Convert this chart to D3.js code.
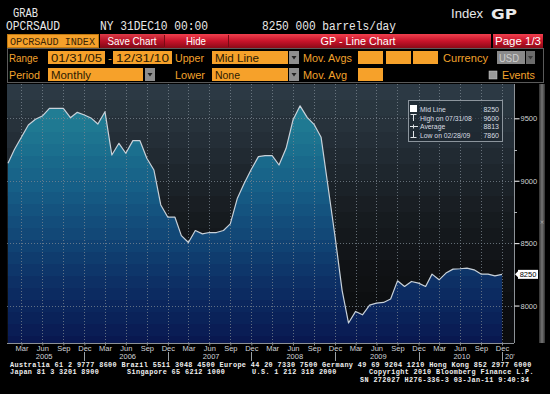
<!DOCTYPE html>
<html><head><meta charset="utf-8">
<script src="https://cdn.jsdelivr.net/npm/d3@7"></script>
<style>
html,body{margin:0;padding:0;background:#000;}
svg{display:block;}
</style></head>
<body>
<svg id="c" width="550" height="394"></svg>
<script>
// ---------------- DATA ----------------
const startYear = 2005;
const values2005 = [9140, 9250, 9350, 9446, 9492, 9518, 9580, 9580, 9580, 9505, 9548, 9527];
const values2006 = [9500, 9454, 9553, 9206, 9300, 9220, 9321, 9321, 9180, 9086, 8806, 8708];
const values2007 = [8708, 8560, 8505, 8601, 8574, 8585, 8585, 8601, 8654, 8860, 8980, 9092];
const values2008 = [9193, 9201, 9201, 9126, 9260, 9486, 9600, 9508, 9452, 9348, 8958, 8553];
const values2009 = [8120, 7860, 7953, 7926, 8004, 8020, 8025, 8052, 8198, 8153, 8193, 8180];
const values2010 = [8153, 8252, 8206, 8260, 8292, 8295, 8300, 8286, 8252, 8252, 8238, 8250];
const values = [].concat(values2005, values2006, values2007, values2008, values2009, values2010);
const yTickValues = [8000, 8500, 9000, 9500];
const yMinorTicks = [8250, 8750, 9250];
const yearLabels = ["2005", "2006", "2007", "2008", "2009", "2010"];
const lastValue = 8250;
const legendRows = [
  ["Mid Line", "8250"],
  ["High on 07/31/08", "9600"],
  ["Average", "8813"],
  ["Low on 02/28/09", "7860"]
];
const footer1 = "Australia 61 2 9777 8600 Brazil 5511 3048 4500 Europe 44 20 7330 7500 Germany 49 69 9204 1210 Hong Kong 852 2977 6000";
const footer2 = ["Japan 81 3 3201 8900", "Singapore 65 6212 1000", "U.S. 1 212 318 2000", "Copyright 2010 Bloomberg Finance L.P."];
const footer3 = "SN 272027 H276-336-3 03-Jan-11  9:40:34";

// month-end dates
const dates = values.map((v, i) => new Date(Date.UTC(startYear, i + 1, 0)));
const data = values.map((v, i) => ({date: dates[i], value: v}));

// ---------------- LAYOUT ----------------
const svg = d3.select("#c");
const P = {l: 7, r: 514, t: 84, b: 343};
const x = d3.scaleUtc().domain([dates[0], dates[dates.length - 1]]).range([8, 502]);
const y = d3.scaleLinear().domain([7700, 9775]).range([P.b, P.t]);

const defs = svg.append("defs");
defs.append("clipPath").attr("id", "plotclip").append("rect")
  .attr("x", P.l).attr("y", P.t).attr("width", P.r - P.l).attr("height", P.b - P.t);

function steppedGradient(id, colorFn, step) {
  const g = defs.append("linearGradient").attr("id", id)
    .attr("gradientUnits", "userSpaceOnUse").attr("x1", 0).attr("x2", 0)
    .attr("y1", P.t).attr("y2", P.b);
  const H = P.b - P.t;
  for (let yy = 0; yy < H; yy += step) {
    const c = colorFn((yy + step / 2) / H);
    g.append("stop").attr("offset", yy / H).attr("stop-color", c);
    g.append("stop").attr("offset", Math.min(1, (yy + step) / H)).attr("stop-color", c);
  }
}
const bgInterp = d3.piecewise(d3.interpolateRgb, ["#2d3b46", "#232d35", "#181d22", "#101215", "#0b0c0e"]);
steppedGradient("bggrad", t => bgInterp(Math.min(1, t * 1.05)), 16);
const fillInterp = d3.piecewise(d3.interpolateRgb, ["#26889a", "#1d7590", "#165e87", "#114575", "#0c2c62", "#091850"]);
steppedGradient("fillgrad", t => fillInterp(t), 12);

const redGrad = defs.append("linearGradient").attr("id", "redgrad").attr("x1", 0).attr("x2", 0).attr("y1", 0).attr("y2", 1);
redGrad.append("stop").attr("offset", 0).attr("stop-color", "#f0404e");
redGrad.append("stop").attr("offset", 0.5).attr("stop-color", "#c8142a");
redGrad.append("stop").attr("offset", 1).attr("stop-color", "#8c0a18");

// ---------------- PLOT ----------------
svg.append("rect").attr("x", P.l).attr("y", P.t).attr("width", P.r - P.l).attr("height", P.b - P.t)
  .attr("fill", "url(#bggrad)");

const plot = svg.append("g").attr("clip-path", "url(#plotclip)");

const area = d3.area().x(d => x(d.date)).y0(P.b).y1(d => y(d.value));
plot.append("path").datum(data).attr("d", area).attr("fill", "url(#fillgrad)");

const quarterTicks = dates.filter(d => (d.getUTCMonth() + 1) % 3 === 0);
plot.append("g").selectAll("line").data(quarterTicks).join("line")
  .attr("x1", d => Math.round(x(d)) + 0.5).attr("x2", d => Math.round(x(d)) + 0.5)
  .attr("y1", P.t).attr("y2", P.b)
  .attr("stroke", "#7d8892").attr("stroke-width", 1).attr("stroke-dasharray", "1,2").attr("opacity", 0.75);
plot.append("g").selectAll("line").data(yTickValues).join("line")
  .attr("x1", P.l).attr("x2", P.r)
  .attr("y1", d => Math.round(y(d)) + 0.5).attr("y2", d => Math.round(y(d)) + 0.5)
  .attr("stroke", "#7d8892").attr("stroke-width", 1).attr("stroke-dasharray", "1,2").attr("opacity", 0.75);

const line = d3.line().x(d => x(d.date)).y(d => y(d.value));
plot.append("path").datum(data).attr("d", line).attr("fill", "none")
  .attr("stroke", "#c8d1d9").attr("stroke-width", 1.2).attr("stroke-linejoin", "round");

// legend
const lg = svg.append("g");
lg.append("rect").attr("x", 408.5).attr("y", 100.5).attr("width", 94).attr("height", 41)
  .attr("fill", "rgba(28,38,48,0.55)").attr("stroke", "#8c959d").attr("stroke-width", 1);
const rowY = [112, 120.5, 129, 137.5];
lg.selectAll("text.l").data(legendRows).join("text").attr("class", "l")
  .attr("x", 420).attr("y", (d, i) => rowY[i]).text(d => d[0])
  .attr("fill", "#d8dde2").attr("font-family", "Liberation Sans, Arial, sans-serif").attr("font-size", 6.8);
lg.selectAll("text.v").data(legendRows).join("text").attr("class", "v")
  .attr("x", 499).attr("y", (d, i) => rowY[i]).attr("text-anchor", "end").text(d => d[1])
  .attr("fill", "#d8dde2").attr("font-family", "Liberation Sans, Arial, sans-serif").attr("font-size", 7);
lg.append("rect").attr("x", 410).attr("y", 105).attr("width", 7).attr("height", 7).attr("fill", "#ffffff");
lg.append("path").attr("d", "M410.5,114.5h6M413.5,114.5v6.5").attr("stroke", "#e0e4e8").attr("fill", "none");
lg.append("path").attr("d", "M410,126.5h8M413.5,124.5v4").attr("stroke", "#e0e4e8").attr("fill", "none");
lg.append("path").attr("d", "M413.5,131v6.5M410.5,137.5h6").attr("stroke", "#e0e4e8").attr("fill", "none");

// ---------------- AXES ----------------
svg.append("line").attr("x1", P.r + 0.5).attr("x2", P.r + 0.5).attr("y1", P.t).attr("y2", P.b)
  .attr("stroke", "#8d9297");
const yAxis = d3.axisRight(y).tickValues(yTickValues).tickSize(5).tickPadding(1).tickFormat(d3.format("d"));
const ya = svg.append("g").attr("transform", `translate(${P.r + 0.5},0)`).call(yAxis);
ya.select(".domain").remove();
ya.selectAll(".tick line").attr("stroke", "#ffffff");
ya.selectAll(".tick text").attr("fill", "#cfd3d6").attr("font-family", "Liberation Sans, Arial, sans-serif")
  .attr("font-size", 7.5).attr("dy", "0.34em");
svg.append("g").selectAll("line").data(yMinorTicks.filter(v => v !== lastValue)).join("line")
  .attr("x1", P.r).attr("x2", P.r + 3).attr("y1", d => Math.round(y(d)) + 0.5).attr("y2", d => Math.round(y(d)) + 0.5)
  .attr("stroke", "#aeb3b7");
const ly = y(lastValue);
svg.append("path").attr("d", `M${P.r + 1},${ly} L${P.r + 4},${ly - 3} L${P.r + 4},${ly + 3}Z`).attr("fill", "#ffffff");
svg.append("rect").attr("x", P.r + 4).attr("y", ly - 4.5).attr("width", 20).attr("height", 9).attr("fill", "#ffffff");
svg.append("text").attr("x", P.r + 14).attr("y", ly + 3).attr("text-anchor", "middle").text(String(lastValue))
  .attr("fill", "#000").attr("font-family", "Liberation Sans, Arial, sans-serif").attr("font-size", 7.5);

svg.append("rect").attr("x", 539).attr("y", 84).attr("width", 6).attr("height", 259).attr("fill", "#3c3c3c");
svg.append("rect").attr("x", 540.5).attr("y", 84).attr("width", 3).attr("height", 259).attr("fill", "#6a6a6a");
svg.append("text").attr("x", 542).attr("y", 224).attr("text-anchor", "middle").text("×")
  .attr("fill", "#aaa").attr("font-size", 6).attr("font-family", "DejaVu Sans");

svg.append("line").attr("x1", P.l).attr("x2", P.r).attr("y1", P.b + 0.5).attr("y2", P.b + 0.5).attr("stroke", "#8d9297");
const xAxis = d3.axisBottom(x).tickValues(quarterTicks).tickSize(2).tickPadding(1).tickFormat(d3.utcFormat("%b"));
const xa = svg.append("g").attr("transform", `translate(0,${P.b + 0.5})`).call(xAxis);
xa.select(".domain").remove();
xa.selectAll(".tick line").attr("stroke", "#8d9297");
xa.selectAll(".tick text").attr("fill", "#d0d4d8").attr("font-family", "Liberation Sans, Arial, sans-serif")
  .attr("font-size", 7.5).attr("dy", "0.6em");
const yearEnds = dates.filter(d => d.getUTCMonth() === 11);
svg.append("g").selectAll("line").data(yearEnds).join("line")
  .attr("x1", d => Math.round(x(d)) + 0.5).attr("x2", d => Math.round(x(d)) + 0.5)
  .attr("y1", 352).attr("y2", 361).attr("stroke", "#9aa0a5");
svg.append("g").selectAll("text").data(yearLabels).join("text")
  .attr("x", (d, i) => (x(dates[i * 12]) + x(dates[i * 12 + 11])) / 2 - 2)
  .attr("y", 359).attr("text-anchor", "middle").text(d => d)
  .attr("fill", "#d0d4d8").attr("font-family", "Liberation Sans, Arial, sans-serif").attr("font-size", 7.5);
svg.append("text").attr("x", 505).attr("y", 359).text("20'")
  .attr("fill", "#d0d4d8").attr("font-family", "Liberation Sans, Arial, sans-serif").attr("font-size", 7.5);

// ---------------- HEADER ----------------
const mono = "Liberation Mono, DejaVu Sans Mono, monospace";
const sans = "Liberation Sans, Arial, sans-serif";
function txt(s, xx, yy, opts) {
  opts = opts || {};
  const t = svg.append("text").attr("x", xx).attr("y", yy).text(s)
    .attr("fill", opts.fill || "#e8e8e8").attr("font-family", opts.font || mono)
    .attr("font-size", opts.size || 12);
  if (opts.len) t.attr("textLength", opts.len).attr("lengthAdjust", "spacingAndGlyphs");
  if (opts.ls) t.attr("letter-spacing", opts.ls);
  if (opts.anchor) t.attr("text-anchor", opts.anchor);
  if (opts.weight) t.attr("font-weight", opts.weight);
  return t;
}
txt("GRAB", 13, 17, {len: 25});
txt("OPCRSAUD", 6, 30, {len: 54});
txt("NY 31DEC10 00:00", 100, 30, {len: 108});
txt("8250 000 barrels/day", 262, 30, {len: 134});
txt("Index", 451, 18, {font: sans, size: 12.5, len: 32});
txt("GP", 491, 18.5, {font: "DejaVu Sans, sans-serif", size: 14, weight: "bold", len: 26});

const orange = "#f6a12a";
svg.append("rect").attr("x", 7.5).attr("y", 34.5).attr("width", 91).attr("height", 13).attr("fill", orange).attr("stroke", "#c27b12");
txt("OPCRSAUD INDEX", 10, 45, {fill: "#3a2506", size: 11, len: 85});
svg.append("rect").attr("x", 100).attr("y", 34).attr("width", 391).attr("height", 14).attr("fill", "url(#redgrad)");
svg.append("rect").attr("x", 100).attr("y", 34).attr("width", 64).attr("height", 14).attr("fill", "rgba(0,0,0,0.08)");
svg.append("line").attr("x1", 164.5).attr("x2", 164.5).attr("y1", 35).attr("y2", 47).attr("stroke", "#7a0a14");
svg.append("line").attr("x1", 228.5).attr("x2", 228.5).attr("y1", 35).attr("y2", 47).attr("stroke", "#7a0a14");
txt("Save Chart", 132, 45, {font: sans, size: 11, anchor: "middle", len: 49, fill: "#ffffff"});
txt("Hide", 196, 45, {font: sans, size: 11, anchor: "middle", len: 20, fill: "#ffffff"});
txt("GP - Line Chart", 358, 45, {font: sans, size: 11, anchor: "middle", len: 75, fill: "#ffffff"});
svg.append("rect").attr("x", 493).attr("y", 34).attr("width", 50).attr("height", 14).attr("fill", "url(#redgrad)");
txt("Page 1/3", 518, 45, {font: sans, size: 11, anchor: "middle", len: 46, fill: "#ffffff"});

svg.append("rect").attr("x", 7.5).attr("y", 48.5).attr("width", 536).attr("height", 34).attr("fill", "none").attr("stroke", "#5a5a5a");
const lab = "#f2a22c";
const dark = "#2b1a02";
function box(x0, x1, y0, s, len) {
  svg.append("rect").attr("x", x0).attr("y", y0).attr("width", x1 - x0).attr("height", 13).attr("fill", orange);
  if (s) txt(s, x0 + 3, y0 + 10.5, {fill: dark, size: 11.5, font: sans, len: len});
}
function arrow(x0, y0) {
  svg.append("rect").attr("x", x0).attr("y", y0).attr("width", 10).attr("height", 13).attr("fill", "#8e8e8e");
  svg.append("path").attr("d", `M${x0 + 2.5},${y0 + 5} L${x0 + 7.5},${y0 + 5} L${x0 + 5},${y0 + 8.5}Z`).attr("fill", "#222");
}
const rA = 51, rB = 68;
txt("Range", 9, 61.5, {font: sans, size: 11.5, fill: lab, len: 29});
box(48, 105, rA, "01/31/05", 51);
txt("-", 108, 61.5, {font: sans, size: 11.5, fill: lab});
box(113, 172, rA, "12/31/10", 53);
txt("Upper", 175, 61.5, {font: sans, size: 11.5, fill: lab, len: 29});
box(212, 288, rA, "Mid Line", 44);
arrow(289, rA);
txt("Mov. Avgs", 303, 61.5, {font: sans, size: 11.5, fill: lab, len: 49});
box(358, 383, rA); box(386, 411, rA); box(413, 438, rA);
txt("Currency", 443, 61.5, {font: sans, size: 11.5, fill: lab, len: 45});
svg.append("rect").attr("x", 497).attr("y", rA).attr("width", 28).attr("height", 13).attr("fill", "#8a8a8a");
txt("USD", 499, 61.5, {font: sans, size: 11.5, fill: "#cfcfcf", len: 20});
svg.append("rect").attr("x", 526).attr("y", rA).attr("width", 9).attr("height", 13).attr("fill", "#6c6c6c");
svg.append("path").attr("d", `M528,${rA + 5} L533,${rA + 5} L530.5,${rA + 8.5}Z`).attr("fill", "#3a3a3a");

txt("Period", 9, 78.5, {font: sans, size: 11.5, fill: lab, len: 31});
box(48, 143, rB, "Monthly", 40);
arrow(145, rB);
txt("Lower", 175, 78.5, {font: sans, size: 11.5, fill: lab, len: 30});
box(212, 288, rB, "None", 25);
arrow(289, rB);
txt("Mov. Avg", 303, 78.5, {font: sans, size: 11.5, fill: lab, len: 44});
box(358, 383, rB);
svg.append("rect").attr("x", 489).attr("y", 71).attr("width", 8).attr("height", 8).attr("fill", "#9a9a9a").attr("stroke", "#cfcfcf").attr("stroke-width", 0.5);
txt("Events", 502, 78.5, {font: sans, size: 11.5, fill: lab, len: 33});

// ---------------- FOOTER ----------------
const fmono = "Liberation Mono, monospace";
const fopt = {font: fmono, size: 6.8, fill: "#f0f0f0", ls: 0.38, weight: "bold"};
txt(footer1, 10, 366.5, fopt);
txt(footer2[0], 10, 374.3, fopt);
txt(footer2[1], 127, 374.3, fopt);
txt(footer2[2], 252, 374.3, fopt);
txt(footer2[3], 369, 374.3, fopt);
txt(footer3, 360, 382.1, fopt);
</script>
</body></html>
